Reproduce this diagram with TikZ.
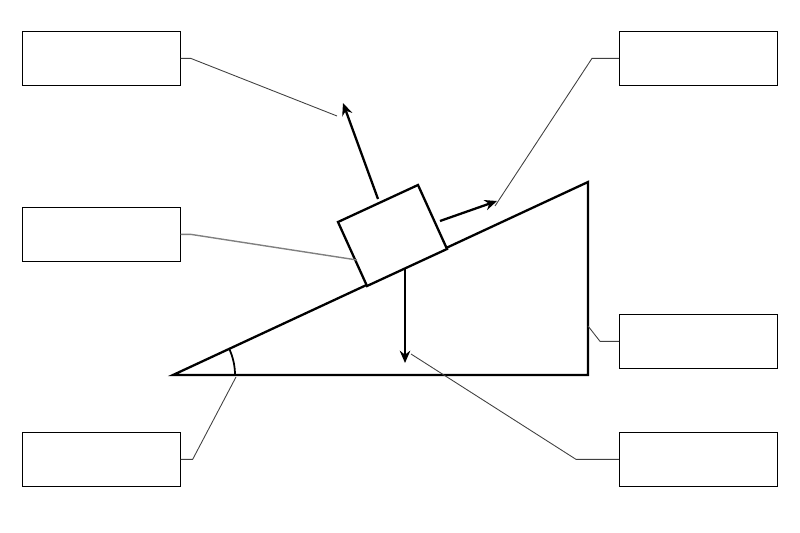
\documentclass[tikz,border=0pt]{standalone}
\usetikzlibrary{arrows.meta,positioning,calc}
\begin{document}
\begin{tikzpicture}[x=0.02cm,y=-0.02cm,
  label box/.style={draw,rectangle,minimum width=3.16cm,minimum height=1.08cm,anchor=north west,inner sep=0pt},
  leader/.style={draw=black!75,line width=0.5pt},
  force/.style={-{Stealth[length=7pt,width=6pt]},line width=1.3pt}]
\useasboundingbox (0,0) rectangle (800,533);
% labels
\node[label box] (lt) at (22,31) {};
\node[label box] (lm) at (22,207) {};
\node[label box] (lb) at (22,432) {};
\node[label box] (rt) at (619,31) {};
\node[label box] (rm) at (619,314) {};
\node[label box] (rb) at (619,432) {};
% incline
\coordinate (A) at (173,375);
\coordinate (B) at (588,182);
\coordinate (C) at (588,375);
\draw[line width=1.3pt] (A) -- (B) -- (C) -- cycle;
\draw[line width=1pt] ($(A)+(62,0)$) arc[start angle=0,end angle=-25,radius=62];
% block
\coordinate (p1) at (367,286);
\coordinate (p2) at (447,249);
\coordinate (p3) at (418,185);
\coordinate (p4) at (338,222);
\draw[line width=1.3pt,fill=white] (p1) -- (p2) -- (p3) -- (p4) -- cycle;
% forces
\coordinate (n0) at (378,199);
\coordinate (n1) at (343,103);
\coordinate (f0) at (440,221);
\coordinate (f1) at (497,201);
\coordinate (g0) at (405,268);
\coordinate (g1) at (405,363);
\draw[force] (n0) -- (n1);
\draw[force] (f0) -- (f1);
\draw[force] (g0) -- (g1);
% leader lines
\draw[leader] (lt.east) -- ++(10,0) -- (337,116);
\draw[leader,draw=black!50,line width=0.8pt] (lm.east) -- ++(10,0) -- (357,260);
\draw[leader] (lb.east) -- ++(12,0) -- (236,377);
\draw[leader] (rt.west) -- ++(-27,0) -- (495,206);
\draw[leader] (rm.west) -- ++(-19,0) -- (588,326);
\draw[leader] (rb.west) -- ++(-43,0) -- (411,354);
\end{tikzpicture}
\end{document}
